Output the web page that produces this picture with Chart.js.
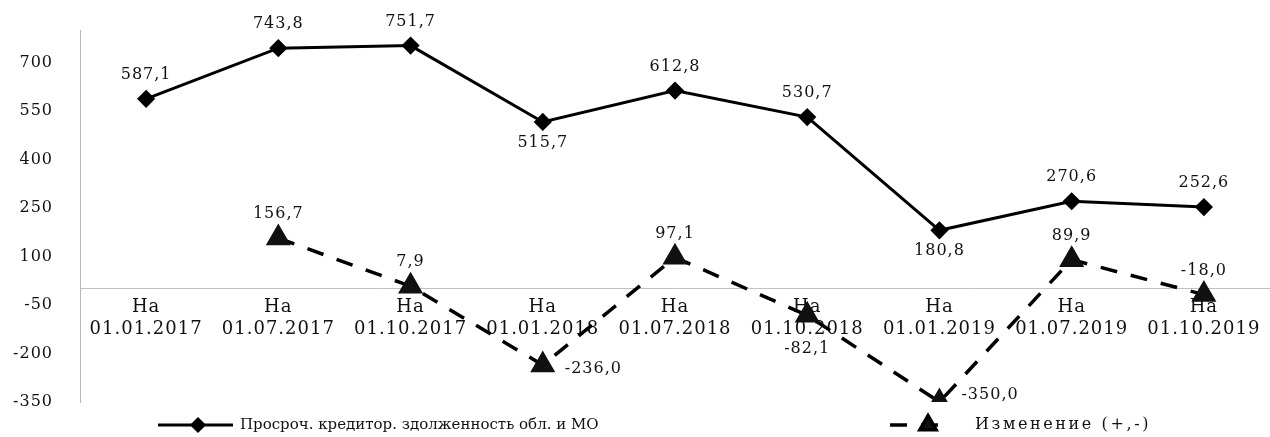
<!doctype html>
<html lang="ru">
<head>
<meta charset="utf-8">
<title>Просроченная кредиторская задолженность</title>
<script src="https://cdn.jsdelivr.net/npm/chart.js"></script>
<style>
  html, body { margin: 0; padding: 0; background: #fff; overflow: hidden; }
  #wrap { width: 1270px; height: 437px; position: relative; }
</style>
</head>
<body>
<div id="wrap"><canvas id="debtChart"></canvas></div>
<script>
// даты отчётов
const dates = ['01.01.2017', '01.07.2017', '01.10.2017', '01.01.2018', '01.07.2018',
               '01.10.2018', '01.01.2019', '01.07.2019', '01.10.2019'];
// просроченная кредиторская задолженность, млн руб.
const overdueDebt = [587.1, 743.8, 751.7, 515.7, 612.8, 530.7, 180.8, 270.6, 252.6];
// изменение к предыдущей дате
const debtChange = [null, 156.7, 7.9, -236.0, 97.1, -82.1, -350.0, 89.9, -18.0];
const yTicks = [-350, -200, -50, 100, 250, 400, 550, 700];
const seriesNames = ['Просроч. кредитор. здолженность обл. и МО', 'Изменение (+,-)'];

// где ставить подписи значений
const debtLabelPos = ['top', 'top', 'top', 'bottom', 'top', 'top', 'bottom', 'top', 'top'];
const changeLabelPos = [null, 'top', 'top', 'right', 'top', 'under', 'rightUp', 'top', 'top'];

const FONT = 'DejaVu Serif';
const fmt = v => v.toFixed(1).replace('.', ',');

// разрядка текста, как в исходном документе
const spacing = {
  id: 'spacing',
  beforeLayout(chart) { chart.ctx.letterSpacing = '1px'; },
  beforeDraw(chart) { chart.ctx.letterSpacing = '1px'; }
};

const valueLabels = {
  id: 'valueLabels',
  afterDatasetsDraw(chart) {
    const ctx = chart.ctx;
    ctx.save();
    ctx.font = '16px "' + FONT + '"';
    ctx.fillStyle = '#111';
    chart.data.datasets.forEach((ds, di) => {
      const meta = chart.getDatasetMeta(di);
      meta.data.forEach((pt, i) => {
        const v = ds.data[i];
        if (v == null) return;
        const pos = ds.labelPos[i];
        let x = pt.x, y = pt.y;
        ctx.textAlign = 'center';
        ctx.textBaseline = 'middle';
        if (pos === 'top') y -= 24;
        else if (pos === 'bottom') y += 21;
        else if (pos === 'under') y += 34;
        else if (pos === 'right') { ctx.textAlign = 'left'; x += 22; y += 4; }
        else if (pos === 'rightUp') { ctx.textAlign = 'left'; x += 22; y -= 7; }
        ctx.fillText(fmt(v), x, y);
      });
    });
    ctx.restore();
  }
};

// легенда внизу: линия с маркером и подпись
const bottomLegend = {
  id: 'bottomLegend',
  afterDraw(chart) {
    const ctx = chart.ctx;
    const y = chart.height - 12;
    const items = [
      { x0: 158, x1: 233, mx: 198, tx: 240, size: 15, gap: '0px' },
      { x0: 890, x1: 952, mx: 928, tx: 975, size: 16, gap: '2.6px' }
    ];
    ctx.save();
    items.forEach((it, i) => {
      const ds = chart.data.datasets[i];
      ctx.strokeStyle = ds.borderColor;
      ctx.lineWidth = ds.borderWidth;
      ctx.setLineDash(ds.borderDash || []);
      ctx.beginPath();
      ctx.moveTo(it.x0, y);
      ctx.lineTo(it.x1, y);
      ctx.stroke();
      ctx.setLineDash([]);
      ctx.fillStyle = ds.pointBackgroundColor;
      Chart.helpers.drawPoint(ctx, {
        pointStyle: ds.pointStyle, radius: ds.pointRadius * 0.85,
        rotation: 0, borderWidth: 1
      }, it.mx, y);
      ctx.fillStyle = '#111';
      ctx.font = it.size + 'px "' + FONT + '"';
      ctx.letterSpacing = it.gap;
      ctx.textAlign = 'left';
      ctx.textBaseline = 'middle';
      ctx.fillText(seriesNames[i], it.tx, y);
    });
    ctx.restore();
  }
};

new Chart(document.getElementById('debtChart'), {
  type: 'line',
  data: {
    labels: dates.map(d => ['На', d]),
    datasets: [{
      label: seriesNames[0],
      data: overdueDebt,
      labelPos: debtLabelPos,
      borderColor: '#000',
      borderWidth: 3,
      pointStyle: 'rectRot',
      pointRadius: 7,
      pointBackgroundColor: '#000',
      pointBorderColor: '#000',
      tension: 0
    }, {
      label: seriesNames[1],
      data: debtChange,
      labelPos: changeLabelPos,
      borderColor: '#000',
      borderWidth: 3.5,
      borderDash: [17, 14],
      pointStyle: 'triangle',
      pointRadius: 11,
      pointBackgroundColor: '#111',
      pointBorderColor: '#111',
      tension: 0
    }]
  },
  options: {
    responsive: true,
    maintainAspectRatio: false,
    animation: false,
    layout: { autoPadding: false, padding: { top: 30, bottom: 35, left: 0, right: -3 } },
    scales: {
      x: {
        type: 'category',
        offset: true,
        position: { y: 0 },
        afterFit: s => { s.paddingLeft = 0; s.paddingRight = 0; },
        grid: { display: false, drawTicks: false },
        border: { display: true, color: '#c2c2c2', dash: [2, 4], width: 1 },
        ticks: {
          color: '#111', padding: 8, maxRotation: 0, autoSkip: false,
          font: { family: FONT, size: 18, lineHeight: 1.2 }
        }
      },
      y: {
        min: -350,
        max: 800,
        afterBuildTicks: s => { s.ticks = yTicks.map(v => ({ value: v })); },
        afterFit: s => { s.width = 80; s.paddingTop = 0; s.paddingBottom = 0; },
        grid: { display: false, drawTicks: false },
        border: { display: true, color: '#b8b8b8', dash: [2, 2], width: 1 },
        ticks: {
          color: '#111', padding: 27,
          font: { family: FONT, size: 16 },
          callback: v => String(v)
        }
      }
    },
    plugins: {
      legend: { display: false },
      tooltip: { enabled: false }
    }
  },
  plugins: [spacing, valueLabels, bottomLegend]
});
</script>
</body>
</html>
